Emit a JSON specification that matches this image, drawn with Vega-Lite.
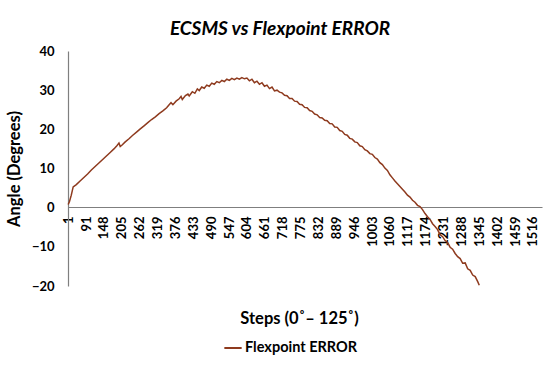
{
  "$schema": "https://vega.github.io/schema/vega-lite/v6.json",
  "autosize": {"type": "none"},
  "padding": {"left": 68, "top": 51, "right": 8, "bottom": 83},
  "width": 474,
  "height": 235,
  "background": "white",
  "title": {"text": "ECSMS vs Flexpoint ERROR", "font": "Lato", "fontSize": 19, "fontStyle": "italic", "fontWeight": "bold", "color": "#000000", "anchor": "middle", "dx": -25, "offset": 6},
  "config": {"view": {"stroke": null}},
  "data": {"values": [
    {"step": 34, "angle": 0.8}, {"step": 38, "angle": 1.5}, {"step": 44, "angle": 3.2}, {"step": 50, "angle": 5.3},
    {"step": 60, "angle": 5.9}, {"step": 72, "angle": 6.8}, {"step": 84, "angle": 7.7}, {"step": 96, "angle": 8.6},
    {"step": 108, "angle": 9.6}, {"step": 120, "angle": 10.5}, {"step": 132, "angle": 11.4}, {"step": 144, "angle": 12.3},
    {"step": 156, "angle": 13.2}, {"step": 168, "angle": 14.1}, {"step": 180, "angle": 15.0}, {"step": 190, "angle": 15.9},
    {"step": 196, "angle": 16.5}, {"step": 200, "angle": 15.6}, {"step": 206, "angle": 16.0}, {"step": 216, "angle": 16.8},
    {"step": 228, "angle": 17.6}, {"step": 240, "angle": 18.5}, {"step": 252, "angle": 19.3}, {"step": 264, "angle": 20.1},
    {"step": 276, "angle": 20.9}, {"step": 288, "angle": 21.7}, {"step": 300, "angle": 22.5}, {"step": 312, "angle": 23.2},
    {"step": 324, "angle": 24.0}, {"step": 336, "angle": 24.7}, {"step": 348, "angle": 25.5}, {"step": 356, "angle": 26.3},
    {"step": 362, "angle": 26.8}, {"step": 368, "angle": 26.3}, {"step": 378, "angle": 27.2}, {"step": 388, "angle": 27.8},
    {"step": 394, "angle": 28.4}, {"step": 398, "angle": 27.6}, {"step": 408, "angle": 28.6}, {"step": 416, "angle": 29.0},
    {"step": 420, "angle": 28.5}, {"step": 430, "angle": 29.6}, {"step": 438, "angle": 29.2}, {"step": 446, "angle": 30.3},
    {"step": 452, "angle": 29.9}, {"step": 460, "angle": 30.8}, {"step": 468, "angle": 30.5}, {"step": 476, "angle": 31.3},
    {"step": 484, "angle": 31.0}, {"step": 492, "angle": 31.8}, {"step": 500, "angle": 31.5}, {"step": 508, "angle": 32.2},
    {"step": 516, "angle": 31.9}, {"step": 524, "angle": 32.5}, {"step": 532, "angle": 32.2}, {"step": 540, "angle": 32.8},
    {"step": 548, "angle": 32.5}, {"step": 556, "angle": 33.0}, {"step": 564, "angle": 32.7}, {"step": 572, "angle": 33.1},
    {"step": 580, "angle": 32.8}, {"step": 588, "angle": 33.2}, {"step": 596, "angle": 32.9}, {"step": 604, "angle": 33.1},
    {"step": 612, "angle": 32.4}, {"step": 620, "angle": 32.8}, {"step": 628, "angle": 31.9}, {"step": 636, "angle": 32.3},
    {"step": 644, "angle": 31.5}, {"step": 652, "angle": 31.9}, {"step": 660, "angle": 31.0}, {"step": 668, "angle": 31.3},
    {"step": 676, "angle": 30.4}, {"step": 684, "angle": 30.8}, {"step": 692, "angle": 29.8}, {"step": 700, "angle": 30.0},
    {"step": 708, "angle": 29.5}, {"step": 716, "angle": 29.3}, {"step": 724, "angle": 28.7}, {"step": 732, "angle": 28.6},
    {"step": 740, "angle": 27.9}, {"step": 748, "angle": 27.9}, {"step": 756, "angle": 27.2}, {"step": 764, "angle": 27.1},
    {"step": 772, "angle": 26.4}, {"step": 780, "angle": 26.3}, {"step": 788, "angle": 25.6}, {"step": 796, "angle": 25.5},
    {"step": 804, "angle": 24.8}, {"step": 812, "angle": 24.6}, {"step": 820, "angle": 23.9}, {"step": 828, "angle": 23.7},
    {"step": 836, "angle": 23.0}, {"step": 844, "angle": 22.9}, {"step": 852, "angle": 22.3}, {"step": 860, "angle": 22.2},
    {"step": 868, "angle": 21.5}, {"step": 876, "angle": 21.4}, {"step": 884, "angle": 20.6}, {"step": 892, "angle": 20.5},
    {"step": 900, "angle": 19.7}, {"step": 908, "angle": 19.5}, {"step": 916, "angle": 18.7}, {"step": 924, "angle": 18.5},
    {"step": 932, "angle": 17.7}, {"step": 940, "angle": 17.5}, {"step": 948, "angle": 16.8}, {"step": 956, "angle": 16.6},
    {"step": 964, "angle": 15.8}, {"step": 972, "angle": 15.6}, {"step": 980, "angle": 14.8}, {"step": 988, "angle": 14.5},
    {"step": 996, "angle": 13.8}, {"step": 1004, "angle": 13.6}, {"step": 1012, "angle": 12.8}, {"step": 1020, "angle": 12.4},
    {"step": 1028, "angle": 11.5}, {"step": 1036, "angle": 11.0}, {"step": 1044, "angle": 10.1}, {"step": 1052, "angle": 9.5},
    {"step": 1060, "angle": 8.4}, {"step": 1068, "angle": 7.6}, {"step": 1076, "angle": 6.8}, {"step": 1084, "angle": 6.1},
    {"step": 1092, "angle": 5.4}, {"step": 1100, "angle": 4.7}, {"step": 1108, "angle": 4.0}, {"step": 1116, "angle": 3.2},
    {"step": 1124, "angle": 2.7}, {"step": 1132, "angle": 1.9}, {"step": 1140, "angle": 1.4}, {"step": 1148, "angle": 0.6},
    {"step": 1156, "angle": 0.3}, {"step": 1164, "angle": -0.5}, {"step": 1172, "angle": -1.5}, {"step": 1180, "angle": -2.3},
    {"step": 1188, "angle": -3.0}, {"step": 1196, "angle": -4.1}, {"step": 1204, "angle": -4.8}, {"step": 1212, "angle": -5.6},
    {"step": 1220, "angle": -6.9}, {"step": 1228, "angle": -7.4}, {"step": 1236, "angle": -8.4}, {"step": 1244, "angle": -8.9},
    {"step": 1252, "angle": -10.1}, {"step": 1260, "angle": -10.6}, {"step": 1268, "angle": -11.7}, {"step": 1276, "angle": -12.5},
    {"step": 1284, "angle": -13.0}, {"step": 1292, "angle": -14.2}, {"step": 1300, "angle": -14.1}, {"step": 1308, "angle": -15.6},
    {"step": 1316, "angle": -16.0}, {"step": 1324, "angle": -17.2}, {"step": 1332, "angle": -17.6}, {"step": 1340, "angle": -18.9},
    {"step": 1345, "angle": -19.8}
  ]},
  "mark": {"type": "line", "strokeWidth": 1.5},
  "encoding": {
    "x": {
      "field": "step", "type": "quantitative",
      "scale": {"domain": [33.5, 1545], "nice": false, "zero": false},
      "axis": {
        "title": "Steps (0˚– 125˚)",
        "titleFont": "Lato", "titleFontSize": 16.5, "titleFontWeight": "bold", "titleColor": "#000000",
        "titleY": 111, "titleBaseline": "middle", "titleX": 231,
        "values": [34, 91, 148, 205, 262, 319, 376, 433, 490, 547, 604, 661, 718, 775, 832, 889, 946, 1003, 1060, 1117, 1174, 1231, 1288, 1345, 1402, 1459, 1516],
        "labelExpr": "datum.value == 34 ? '1' : datum.value",
        "labelAngle": 270, "labelFont": "Lato", "labelFontSize": 13, "labelFontWeight": "bold", "labelColor": "#000000",
        "labelPadding": 9, "labelOverlap": false, "labelFlush": false,
        "ticks": false, "grid": false, "offset": -79,
        "domainColor": "#7f7f7f", "domainWidth": 1.2
      }
    },
    "y": {
      "field": "angle", "type": "quantitative",
      "scale": {"domain": [-20, 40], "nice": false},
      "axis": {
        "title": "Angle (Degrees)",
        "titleFont": "Lato", "titleFontSize": 16.5, "titleFontWeight": "bold", "titleColor": "#000000",
        "titlePadding": 9,
        "values": [-20, -10, 0, 10, 20, 30, 40],
        "labelFont": "Lato", "labelFontSize": 13, "labelFontWeight": "bold", "labelColor": "#000000",
        "labelPadding": 14, "ticks": false, "grid": false,
        "domainColor": "#7f7f7f", "domainWidth": 1.2
      }
    },
    "color": {
      "datum": "Flexpoint ERROR",
      "scale": {"range": ["#8E3A1E"]},
      "legend": {
        "title": null, "orient": "none", "legendX": 155, "legendY": 287,
        "symbolType": "stroke", "symbolStrokeWidth": 2, "symbolSize": 300,
        "labelFont": "Lato", "labelFontSize": 14.5, "labelFontWeight": "bold", "labelColor": "#000000",
        "labelOffset": 2
      }
    }
  }
}
